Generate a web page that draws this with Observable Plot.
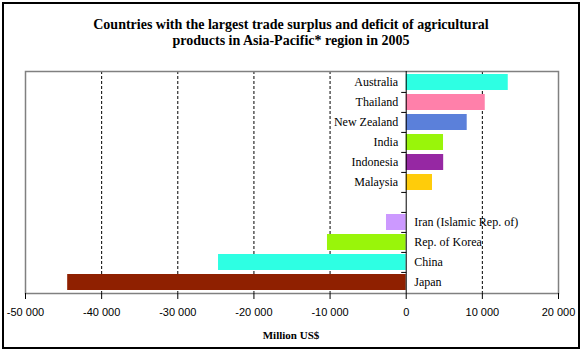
<!DOCTYPE html>
<html>
<head>
<meta charset="utf-8">
<script src="https://cdn.jsdelivr.net/npm/d3@7"></script>
<script src="https://cdn.jsdelivr.net/npm/@observablehq/plot@0.6"></script>
<style>
  html, body { margin: 0; padding: 0; background: #fff; }
  #page { position: relative; width: 582px; height: 352px; overflow: hidden; background: #fff; }
  #border { position: absolute; left: 2px; top: 2px; width: 574px; height: 343px; border: 2px solid #000; }
  #title { position: absolute; left: 0; width: 582px; top: 17px; text-align: center;
           font-family: "Liberation Serif", serif; font-weight: bold; font-size: 14px; line-height: 16px; color: #000; }
  #xlabel { position: absolute; left: 0; width: 582px; top: 329px; text-align: center;
           font-family: "Liberation Serif", serif; font-weight: bold; font-size: 11px; line-height: 13px; color: #000; }
  #chart { position: absolute; left: 0; top: 0; }
</style>
</head>
<body>
<div id="page">
  <div id="chart"></div>
  <div id="border"></div>
  <div id="title">Countries with the largest trade surplus and deficit of agricultural<br>products in Asia-Pacific* region in 2005</div>
  <div id="xlabel">Million US$</div>
</div>
<script>
// Data (million US$), top to bottom; blank slot separates surplus and deficit
const countries = ["Australia", "Thailand", "New Zealand", "India", "Indonesia", "Malaysia", " ", "Iran (Islamic Rep. of)", "Rep. of Korea", "China", "Japan"];
const values    = [13400, 10380, 8010, 4900, 4920, 3450, null, -2590, -10340, -24650, -44460];
const colors    = ["#2EFFE3", "#FF80AA", "#5B80DA", "#99F50A", "#9628A3", "#FFCC0A", "#ffffff", "#CC99FF", "#99F50A", "#2EFFE3", "#8F2000"];
const xTicks    = [-50000, -40000, -30000, -20000, -10000, 0, 10000, 20000];
const gridTicks = [-40000, -30000, -20000, -10000, 10000];

const data = countries.map((c, i) => ({country: c, value: values[i], color: colors[i]}));
const bars = data.filter(d => d.value != null);
const pos = bars.filter(d => d.value >= 0);
const neg = bars.filter(d => d.value < 0);

const W = 582, H = 325, mTop = 71, mBottom = 32, mLeft = 25, mRight = 24;
const step = (H - mTop - mBottom) / countries.length;

const fmt = d3.formatLocale({decimal: ".", thousands: " ", grouping: [3], currency: ["", ""], minus: "-"}).format(",");

const leftTick = {draw(ctx) { ctx.moveTo(-5, 0); ctx.lineTo(0, 0); }};

const chart = Plot.plot({
  width: W, height: H,
  marginTop: mTop, marginBottom: mBottom, marginLeft: mLeft, marginRight: mRight,
  style: {fontFamily: "Liberation Serif", fontSize: "12px", background: "transparent", color: "#000"},
  x: {domain: [-50000, 20000]},
  y: {domain: countries, paddingInner: 0.2, paddingOuter: 0.1, axis: null},
  marks: [
    Plot.ruleX(gridTicks, {stroke: "#000", strokeDasharray: "3,2", strokeWidth: 1}),
    Plot.barX(bars, {x: "value", y: "country", fill: d => d.color}),
    Plot.frame({stroke: "#808080", strokeWidth: 1.5}),
    Plot.ruleX([0], {stroke: "#000", strokeWidth: 1}),
    Plot.dot(countries.slice(1), {x: 0, y: d => d, dy: -step / 2, symbol: leftTick, stroke: "#000", strokeWidth: 1, r: 5}),
    Plot.text(pos, {x: 0, y: "country", text: "country", textAnchor: "end", dx: -8,
      fontFamily: "Liberation Serif", fontSize: 12, fill: "#000"}),
    Plot.text(neg, {x: 0, y: "country", text: "country", textAnchor: "start", dx: 8,
      fontFamily: "Liberation Serif", fontSize: 12, fill: "#000"}),
    Plot.axisX({ticks: xTicks, tickFormat: fmt, tickSize: 6, tickPadding: 9,
      fontFamily: "Liberation Sans", fontSize: 11, stroke: "#000", label: null})
  ]
});
document.getElementById("chart").appendChild(chart);
</script>
</body>
</html>
